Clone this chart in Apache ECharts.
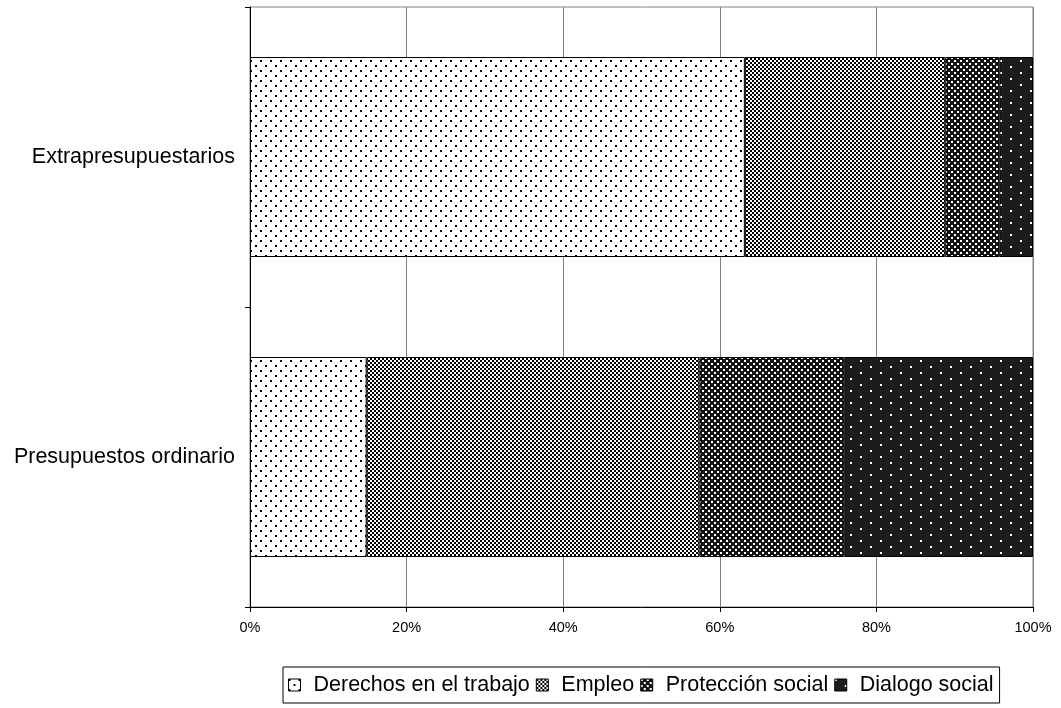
<!DOCTYPE html>
<html>
<head>
<meta charset="utf-8">
<script src="https://cdn.jsdelivr.net/npm/echarts@6/dist/echarts.min.js"></script>
<style>
html,body{margin:0;padding:0;background:#fff;}
#chart{width:1061px;height:708px;}
</style>
</head>
<body>
<div id="chart"></div>
<script>
var categories = ['Extrapresupuestarios', 'Presupuestos ordinario'];
var seriesNames = ['Derechos en el trabajo', 'Empleo', 'Protección social', 'Dialogo social'];
var derechos = [63.2, 14.9];
var empleo = [25.6, 42.5];
var proteccion = [6.9, 18.5];
var dialogo = [4.3, 24.1];
var xTicks = [0, 20, 40, 60, 80, 100];

function makePattern(w, h, bg, fg, rects) {
  var c = document.createElement('canvas');
  c.width = w; c.height = h;
  var ctx = c.getContext('2d');
  ctx.fillStyle = bg; ctx.fillRect(0, 0, w, h);
  ctx.fillStyle = fg;
  rects.forEach(function (r) { ctx.fillRect(r[0], r[1], r[2], r[3]); });
  return { image: c, repeat: 'repeat' };
}

var patDerechos = makePattern(10, 10, '#ffffff', '#000000', [[0, 0, 2, 2], [5, 5, 2, 2]]);
var patEmpleo = makePattern(4, 4, '#ffffff', '#000000', [[0, 0, 2, 2], [2, 2, 2, 2]]);
var patProteccion = makePattern(6, 6, '#141414', '#ffffff', [[0, 0, 2, 2], [3, 3, 2, 2]]);
var patDialogo = makePattern(20, 12, '#1c1c1c', '#ffffff', [[0, 0, 2, 2], [10, 6, 2, 2]]);
var patterns = [patDerechos, patEmpleo, patProteccion, patDialogo];
var values = [derechos, empleo, proteccion, dialogo];

var chart = echarts.init(document.getElementById('chart'), null, { renderer: 'canvas' });
var font = 'Liberation Sans, Arial, sans-serif';

var series = seriesNames.map(function (name, i) {
  return {
    name: name,
    type: 'bar',
    stack: 'total',
    barWidth: 200,
    data: values[i],
    itemStyle: { color: patterns[i], borderColor: '#000', borderWidth: 1 },
    emphasis: { disabled: true }
  };
});

chart.setOption({
  animation: false,
  backgroundColor: '#fff',
  textStyle: { fontFamily: font },
  grid: {
    left: 250, right: 28, top: 7, bottom: 101,
    show: true, borderColor: '#808080', borderWidth: 1
  },
  legend: {
    data: seriesNames,
    left: 283, top: 667,
    padding: [6, 6, 6, 5],
    borderColor: '#000', borderWidth: 1,
    itemWidth: 12, itemHeight: 12, itemGap: 6,
    icon: 'rect',
    itemStyle: { borderColor: '#000', borderWidth: 1 },
    textStyle: { fontSize: 21.5, lineHeight: 24, color: '#000', fontFamily: font, padding: [0, 0, 0, 8] }
  },
  xAxis: {
    type: 'value',
    min: 0, max: 100, interval: 20,
    axisLine: { show: true, lineStyle: { color: '#000', width: 1 } },
    axisTick: { show: true, length: 5, lineStyle: { color: '#000' } },
    axisLabel: {
      formatter: function (v) { return xTicks.indexOf(v) >= 0 ? v + '%' : ''; },
      fontSize: 14.5, color: '#000', margin: 13, fontFamily: font
    },
    splitLine: { show: true, lineStyle: { color: '#808080', width: 1 } }
  },
  yAxis: {
    type: 'category',
    data: categories,
    inverse: true,
    axisLine: { show: true, lineStyle: { color: '#000', width: 1 } },
    axisTick: { show: true, length: 5, alignWithLabel: false, lineStyle: { color: '#000' } },
    axisLabel: { fontSize: 21.5, color: '#000', margin: 15, fontFamily: font },
    splitLine: { show: false }
  },
  series: series
});
</script>
</body>
</html>
